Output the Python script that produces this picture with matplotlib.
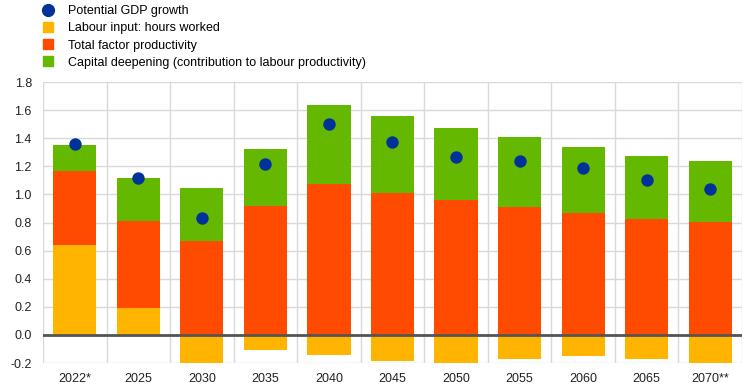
import numpy as np
import matplotlib
matplotlib.use("Agg")
import matplotlib.pyplot as plt
from matplotlib.lines import Line2D

plt.rcParams['font.family'] = ['Liberation Sans', 'DejaVu Sans']

# data
years = ["2022*", "2025", "2030", "2035", "2040", "2045", "2050", "2055", "2060", "2065", "2070**"]
labour = [0.64, 0.195, -0.21, -0.105, -0.14, -0.185, -0.21, -0.175, -0.15, -0.17, -0.2]
tfp = [0.525, 0.615, 0.67, 0.92, 1.075, 1.01, 0.96, 0.91, 0.87, 0.825, 0.805]
capital = [0.185, 0.31, 0.375, 0.405, 0.56, 0.55, 0.515, 0.5, 0.47, 0.45, 0.435]
gdp = [1.36, 1.12, 0.835, 1.22, 1.5, 1.375, 1.265, 1.235, 1.19, 1.105, 1.04]

c_gdp = "#003299"
c_lab = "#FFB400"
c_tfp = "#FF4B00"
c_cap = "#65B800"

fig = plt.figure(figsize=(7.44, 3.9), dpi=100)
ax = fig.add_axes([0.0578, 0.0692, 0.9395, 0.7205])

x = np.arange(len(years))
lab = np.array(labour)
base_tfp = np.where(lab > 0, lab, 0)
w = 0.68

ax.bar(x, labour, width=w, color=c_lab, zorder=2)
ax.bar(x, tfp, width=w, bottom=base_tfp, color=c_tfp, zorder=2)
ax.bar(x, capital, width=w, bottom=base_tfp + np.array(tfp), color=c_cap, zorder=2)
ax.scatter(x, gdp, s=80, color=c_gdp, zorder=4, linewidths=0)

ax.axhline(0, color="#555555", linewidth=2, zorder=3)

ax.set_xlim(-0.5, len(years) - 0.5)
ax.set_ylim(-0.2, 1.8)
ax.set_yticks(np.arange(-0.2, 1.81, 0.2))
ax.set_yticklabels([f"{v:.1f}" for v in np.arange(-0.2, 1.81, 0.2)])
ax.set_xticks(x)
ax.set_xticklabels(years)
ax.set_xticks(np.arange(-0.5, len(years), 1), minor=True)
ax.grid(axis="y", color="#d9d9d9", linewidth=1, zorder=0)
ax.grid(axis="x", which="minor", color="#d9d9d9", linewidth=1, zorder=0)
ax.tick_params(axis="both", which="both", length=0, labelsize=9, colors="#222222")
ax.tick_params(axis="x", pad=7)
ax.tick_params(axis="y", pad=8)
for s in ax.spines.values():
    s.set_visible(False)

handles = [
    Line2D([], [], marker="o", linestyle="none", color=c_gdp, markersize=8.5),
    Line2D([], [], marker="s", linestyle="none", color=c_lab, markersize=7.5),
    Line2D([], [], marker="s", linestyle="none", color=c_tfp, markersize=7.5),
    Line2D([], [], marker="s", linestyle="none", color=c_cap, markersize=7.5),
]
labels = ["Potential GDP growth", "Labour input: hours worked", "Total factor productivity",
          "Capital deepening (contribution to labour productivity)"]
fig.legend(handles, labels, loc="upper left", bbox_to_anchor=(0.048, 1.0), frameon=False,
           fontsize=9, handlelength=1.2, handletextpad=0.95, labelspacing=0.42, borderaxespad=0)

plt.savefig("out.png", dpi=100)
